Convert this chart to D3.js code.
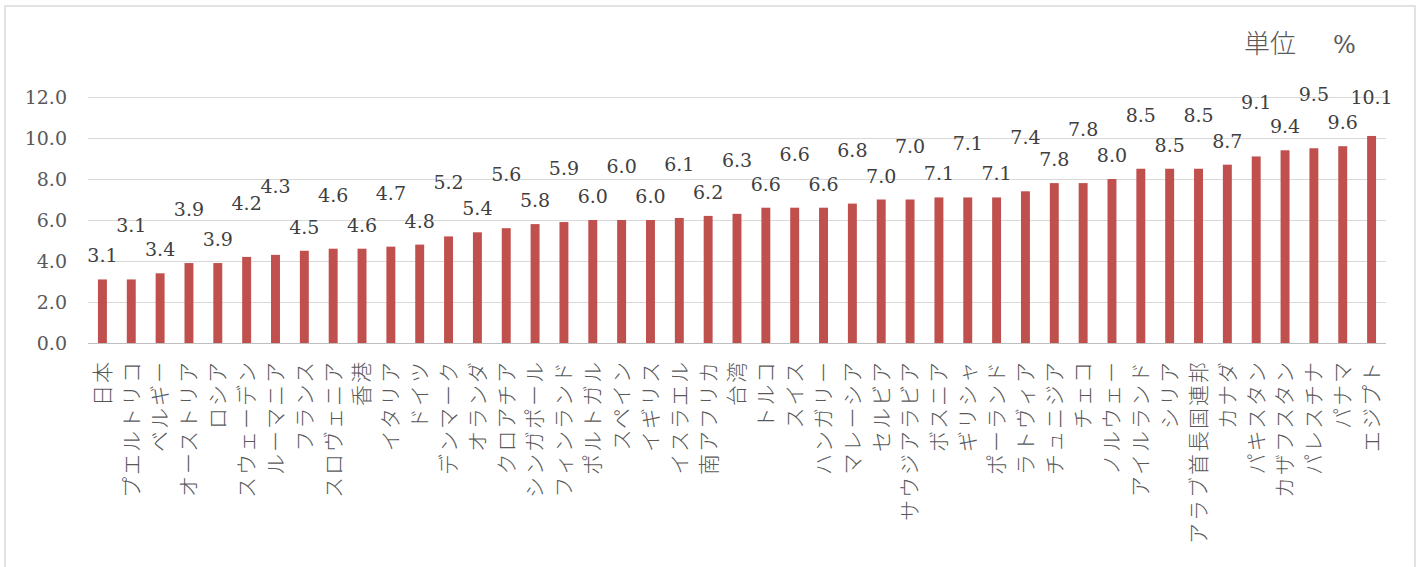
<!DOCTYPE html>
<html>
<head>
<meta charset="utf-8">
<script src="https://cdn.jsdelivr.net/npm/d3@7"></script>
<style>
  html, body { margin: 0; padding: 0; background: #fff; }
  svg { display: block; }
</style>
</head>
<body>
<svg id="chart" width="1424" height="567"></svg>
<script>
// ---- data ----
const categories = ["日本","プエルトリコ","ベルギー","オーストリア","ロシア","スウェーデン","ルーマニア","フランス","スロヴェニア","香港","イタリア","ドイツ","デンマーク","オランダ","クロアチア","シンガポール","フィンランド","ポルトガル","スペイン","イギリス","イスラエル","南アフリカ","台湾","トルコ","スイス","ハンガリー","マレーシア","セルビア","サウジアラビア","ボスニア","ギリシャ","ポーランド","ラトヴィア","チュニジア","チェコ","ノルウェー","アイルランド","シリア","アラブ首長国連邦","カナダ","パキスタン","カザフスタン","パレスチナ","パナマ","エジプト"];
const values = [3.1,3.1,3.4,3.9,3.9,4.2,4.3,4.5,4.6,4.6,4.7,4.8,5.2,5.4,5.6,5.8,5.9,6.0,6.0,6.0,6.1,6.2,6.3,6.6,6.6,6.6,6.8,7.0,7.0,7.1,7.1,7.1,7.4,7.8,7.8,8.0,8.5,8.5,8.5,8.7,9.1,9.4,9.5,9.6,10.1];
// data-label stacking row (0 = just above bar, 1 = lifted one row to avoid overlap)
const labelRow = [0,1,0,1,0,1,1.5,0,1,0,1,0,1,0,1,0,1,0,1,0,1,0,1,0,1,0,1,0,1,0,1,0,1,0,1,0,1,0,1,0,1,0,1,0,0.5];
const yTicks = [0,2,4,6,8,10,12];
const unitLabel = "単位";
const unitSymbol = "%";

// ---- layout ----
const svg = d3.select("#chart");
const plot = { left: 88, right: 1386, top: 97, bottom: 343 };
const numFont = "'DejaVu Serif', 'Liberation Serif', serif";
const cjkFont = "'Noto Sans CJK JP', 'Noto Sans', sans-serif";
const textColor = "#595959";

svg.append("rect").attr("width", 1424).attr("height", 567).attr("fill", "#fff");
svg.append("rect")
  .attr("x", 5).attr("y", 6).attr("width", 1410).attr("height", 620)
  .attr("fill", "none").attr("stroke", "#D9D9D9").attr("stroke-width", 1.5);

const x = d3.scaleBand().domain(categories)
  .range([plot.left, plot.right]).paddingInner(0.69).paddingOuter(0.345);
const y = d3.scaleLinear().domain([0, 12]).range([plot.bottom, plot.top]);

// gridlines
svg.append("g").selectAll("line").data(yTicks).join("line")
  .attr("x1", plot.left).attr("x2", plot.right)
  .attr("y1", d => Math.round(y(d)) + 0.5).attr("y2", d => Math.round(y(d)) + 0.5)
  .attr("stroke", d => d === 0 ? "#BFBFBF" : "#D9D9D9").attr("stroke-width", 1);

// y axis labels
const yAxis = d3.axisLeft(y).tickValues(yTicks).tickFormat(d3.format(".1f")).tickSize(0).tickPadding(0);
const yg = svg.append("g").attr("transform", `translate(${plot.left - 21},0)`).call(yAxis);
yg.select(".domain").remove();
yg.selectAll("text").attr("font-family", numFont).attr("font-size", 19).attr("fill", textColor);

// bars
svg.append("g").selectAll("rect").data(values).join("rect")
  .attr("x", (d, i) => x(categories[i]))
  .attr("width", x.bandwidth())
  .attr("y", d => y(d))
  .attr("height", d => y(0) - y(d))
  .attr("fill", "#C0504D");

// data labels
const rowStep = 30;
svg.append("g").selectAll("text").data(values).join("text")
  .attr("x", (d, i) => x(categories[i]) + x.bandwidth() / 2)
  .attr("y", (d, i) => y(d) - 17 - labelRow[i] * rowStep)
  .attr("text-anchor", "middle")
  .attr("font-family", numFont).attr("font-size", 19).attr("fill", "#404040")
  .text(d => d3.format(".1f")(d));

// x axis category labels (rotated)
const xAxis = d3.axisBottom(x).tickSize(0).tickPadding(0);
const xg = svg.append("g").attr("transform", `translate(0,${plot.bottom})`).call(xAxis);
xg.select(".domain").remove();
xg.selectAll("text")
  .attr("font-family", cjkFont).attr("font-size", 21).attr("font-weight", 300)
  .attr("letter-spacing", "2px").attr("fill", textColor)
  .attr("text-anchor", "end")
  .attr("dy", "0.35em").attr("y", 0)
  .attr("transform", "translate(0,17) rotate(-90)");

// unit label
const unit = svg.append("text").attr("y", 53).attr("fill", textColor).attr("font-size", 26);
unit.append("tspan").attr("x", 1244).attr("font-family", cjkFont).attr("font-weight", 300).text(unitLabel);
unit.append("tspan").attr("x", 1333).attr("font-family", numFont).attr("font-size", 24).text(unitSymbol);
</script>
</body>
</html>
